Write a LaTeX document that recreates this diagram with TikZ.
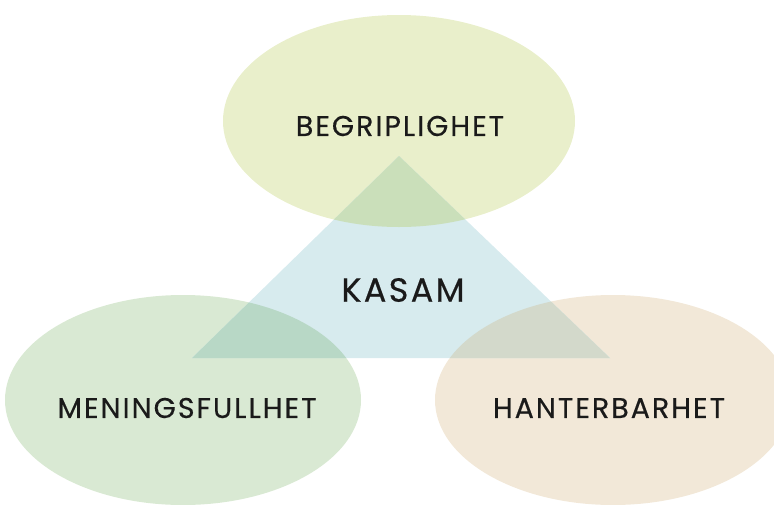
\documentclass[tikz,border=0pt]{standalone}
\usepackage{fontspec}
\setmainfont{Poppins}[FakeBold=0.4, LetterSpace=7]
\usepackage{xcolor}
\usetikzlibrary{positioning,shapes.misc}

\definecolor{topc}{HTML}{E9EFCB}
\definecolor{tric}{HTML}{D7EBEE}
\definecolor{toptri}{HTML}{CADFBA}
\definecolor{leftc}{HTML}{D9E9D3}
\definecolor{lefttri}{HTML}{B8D8C6}
\definecolor{rightc}{HTML}{F2E8D8}
\definecolor{righttri}{HTML}{D3D9CB}
\definecolor{ink}{HTML}{1A1A1A}

\tikzset{
	label text/.style = {text=ink, font=\fontsize{28.5}{32}\selectfont},
	main text/.style = {text=ink, font=\fontsize{33.5}{38}\selectfont}
}

\begin{document}
\begin{tikzpicture}[x=1pt, y=-1pt]
		\useasboundingbox (0,0) rectangle (774,504);
		\coordinate (apex) at (399,156);
		\coordinate (baseL) at (192,358);
		\coordinate (baseR) at (610,358);
		% circles
		\fill[topc] (399,121) ellipse [x radius=176, y radius=106];
		\fill[leftc] (183,400) ellipse [x radius=178, y radius=105];
		\fill[rightc] (613,400) ellipse [x radius=178, y radius=105];
		\fill[tric] (apex) -- (baseL) -- (baseR) -- cycle;
		% overlaps
		\begin{scope}
			\clip (apex) -- (baseL) -- (baseR) -- cycle;
			\fill[toptri] (399,121) ellipse [x radius=176, y radius=106];
			\fill[lefttri] (183,400) ellipse [x radius=178, y radius=105];
			\fill[righttri] (613,400) ellipse [x radius=178, y radius=105];
		\end{scope}
		\node[label text] (begrip) at (400,126) {BEGRIPLIGHET};
		\node[main text] (kasam) at (403,290) {KASAM};
		\node[label text] (mening) at (187,408) {MENINGSFULLHET};
		\node[label text] (hanter) at (609,408) {HANTERBARHET};
	\end{tikzpicture}
\end{document}
